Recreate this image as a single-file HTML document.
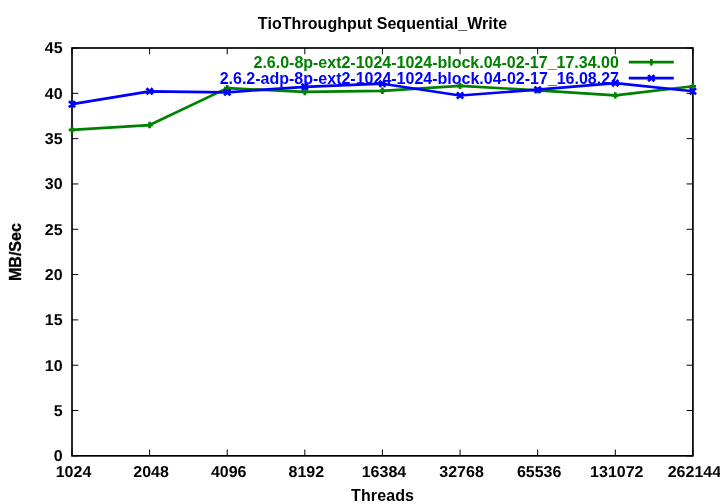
<!DOCTYPE html>
<html lang="en"><head><meta charset="utf-8"><title>TioThroughput Sequential_Write</title>
<style>html,body{margin:0;padding:0;background:#fff;overflow:hidden}svg{display:block;will-change:transform}text{font-family:"Liberation Sans",Arial,Helvetica,sans-serif;font-weight:bold;font-size:16px}</style></head><body>
<svg width="720" height="504" viewBox="0 0 720 504">
<rect width="720" height="504" fill="#fff"/>
<path d="M72.00 455.85h6.3M692.90 455.85h-6.3M72.00 410.53h6.3M692.90 410.53h-6.3M72.00 365.22h6.3M692.90 365.22h-6.3M72.00 319.90h6.3M692.90 319.90h-6.3M72.00 274.58h6.3M692.90 274.58h-6.3M72.00 229.27h6.3M692.90 229.27h-6.3M72.00 183.95h6.3M692.90 183.95h-6.3M72.00 138.63h6.3M692.90 138.63h-6.3M72.00 93.32h6.3M692.90 93.32h-6.3M72.00 48.00h6.3M692.90 48.00h-6.3M72.00 455.85v-6.3M72.00 48.00v6.3M149.61 455.85v-6.3M149.61 48.00v6.3M227.22 455.85v-6.3M227.22 48.00v6.3M304.84 455.85v-6.3M304.84 48.00v6.3M382.45 455.85v-6.3M382.45 48.00v6.3M460.06 455.85v-6.3M460.06 48.00v6.3M537.67 455.85v-6.3M537.67 48.00v6.3M615.29 455.85v-6.3M615.29 48.00v6.3M692.90 455.85v-6.3M692.90 48.00v6.3" stroke="#000" stroke-width="1" fill="none"/>
<g text-anchor="end" fill="#000" text-rendering="geometricPrecision">
<text transform="translate(62.6 460.6) scale(1 .985)">0</text>
<text transform="translate(62.6 415.6) scale(1 .985)">5</text>
<text transform="translate(62.6 370.6) scale(1 .985)">10</text>
<text transform="translate(62.6 324.6) scale(1 .985)">15</text>
<text transform="translate(62.6 279.6) scale(1 .985)">20</text>
<text transform="translate(62.6 234.7) scale(1 .985)">25</text>
<text transform="translate(62.6 188.7) scale(1 .985)">30</text>
<text transform="translate(62.6 143.7) scale(1 .985)">35</text>
<text transform="translate(62.6 98.7) scale(1 .985)">40</text>
<text transform="translate(62.6 52.6) scale(1 .985)">45</text>
</g>
<g text-anchor="middle" fill="#000" text-rendering="geometricPrecision">
<text transform="translate(73.50 476.7) scale(1 .985)">1024</text>
<text transform="translate(151.11 476.7) scale(1 .985)">2048</text>
<text transform="translate(228.72 476.7) scale(1 .985)">4096</text>
<text transform="translate(306.34 476.7) scale(1 .985)">8192</text>
<text transform="translate(383.95 476.7) scale(1 .985)">16384</text>
<text transform="translate(461.56 476.7) scale(1 .985)">32768</text>
<text transform="translate(539.17 476.7) scale(1 .985)">65536</text>
<text transform="translate(616.79 476.7) scale(1 .985)">131072</text>
<text transform="translate(694.40 476.7) scale(1 .985)">262144</text>
</g>
<g text-anchor="middle" fill="#000">
<text x="382.5" y="500.5" textLength="62.9" lengthAdjust="spacing">Threads</text>
<text x="382.5" y="28.8" textLength="249.3" lengthAdjust="spacing">TioThroughput Sequential_Write</text>
<text transform="translate(21.1 252.1) rotate(-90)" stroke="#000" stroke-width=".35">MB/Sec</text>
</g>
<text x="618.8" y="67.9" text-anchor="end" fill="#008000" textLength="365.3" lengthAdjust="spacing">2.6.0-8p-ext2-1024-1024-block.04-02-17_17.34.00</text>
<text x="619" y="84.05" text-anchor="end" fill="#0000ff">2.6.2-adp-8p-ext2-1024-1024-block.04-02-17_16.08.27</text>
<rect x="72.0" y="48.0" width="620.90" height="407.85" fill="none" stroke="#000" stroke-width="1.7"/>
<g stroke="#008000" stroke-width="2.7" fill="none" stroke-linejoin="round">
<path d="M72.00 129.84L149.61 125.04L227.22 88.15L304.84 91.96L382.45 90.78L460.06 85.88L537.67 90.33L615.29 95.40L692.90 86.25"/><path d="M68.80 129.84h6.4M72.00 126.64v6.4M146.41 125.04h6.4M149.61 121.84v6.4M224.03 88.15h6.4M227.22 84.95v6.4M301.64 91.96h6.4M304.84 88.76v6.4M379.25 90.78h6.4M382.45 87.58v6.4M456.86 85.88h6.4M460.06 82.68v6.4M534.47 90.33h6.4M537.67 87.13v6.4M612.09 95.40h6.4M615.29 92.20v6.4M689.70 86.25h6.4M692.90 83.05v6.4"/>
<path d="M628.8 62.2H673.8M648.10 62.20h6.4M651.30 59.00v6.4"/></g>
<g stroke="#0000ff" stroke-width="2.7" fill="none" stroke-linejoin="round">
<path d="M72.00 104.19L149.61 91.32L227.22 92.32L304.84 86.79L382.45 83.71L460.06 95.49L537.67 89.69L615.29 83.17L692.90 91.23"/><path d="M68.90 101.09l6.2 6.2M68.90 107.29l6.2 -6.2M146.51 88.22l6.2 6.2M146.51 94.42l6.2 -6.2M224.12 89.22l6.2 6.2M224.12 95.42l6.2 -6.2M301.74 83.69l6.2 6.2M301.74 89.89l6.2 -6.2M379.35 80.61l6.2 6.2M379.35 86.81l6.2 -6.2M456.96 92.39l6.2 6.2M456.96 98.59l6.2 -6.2M534.57 86.59l6.2 6.2M534.57 92.79l6.2 -6.2M612.19 80.07l6.2 6.2M612.19 86.27l6.2 -6.2M689.80 88.13l6.2 6.2M689.80 94.33l6.2 -6.2"/>
<path d="M628.8 78.2H673.8M648.20 75.10l6.2 6.2M648.20 81.30l6.2 -6.2"/></g>
</svg></body></html>
